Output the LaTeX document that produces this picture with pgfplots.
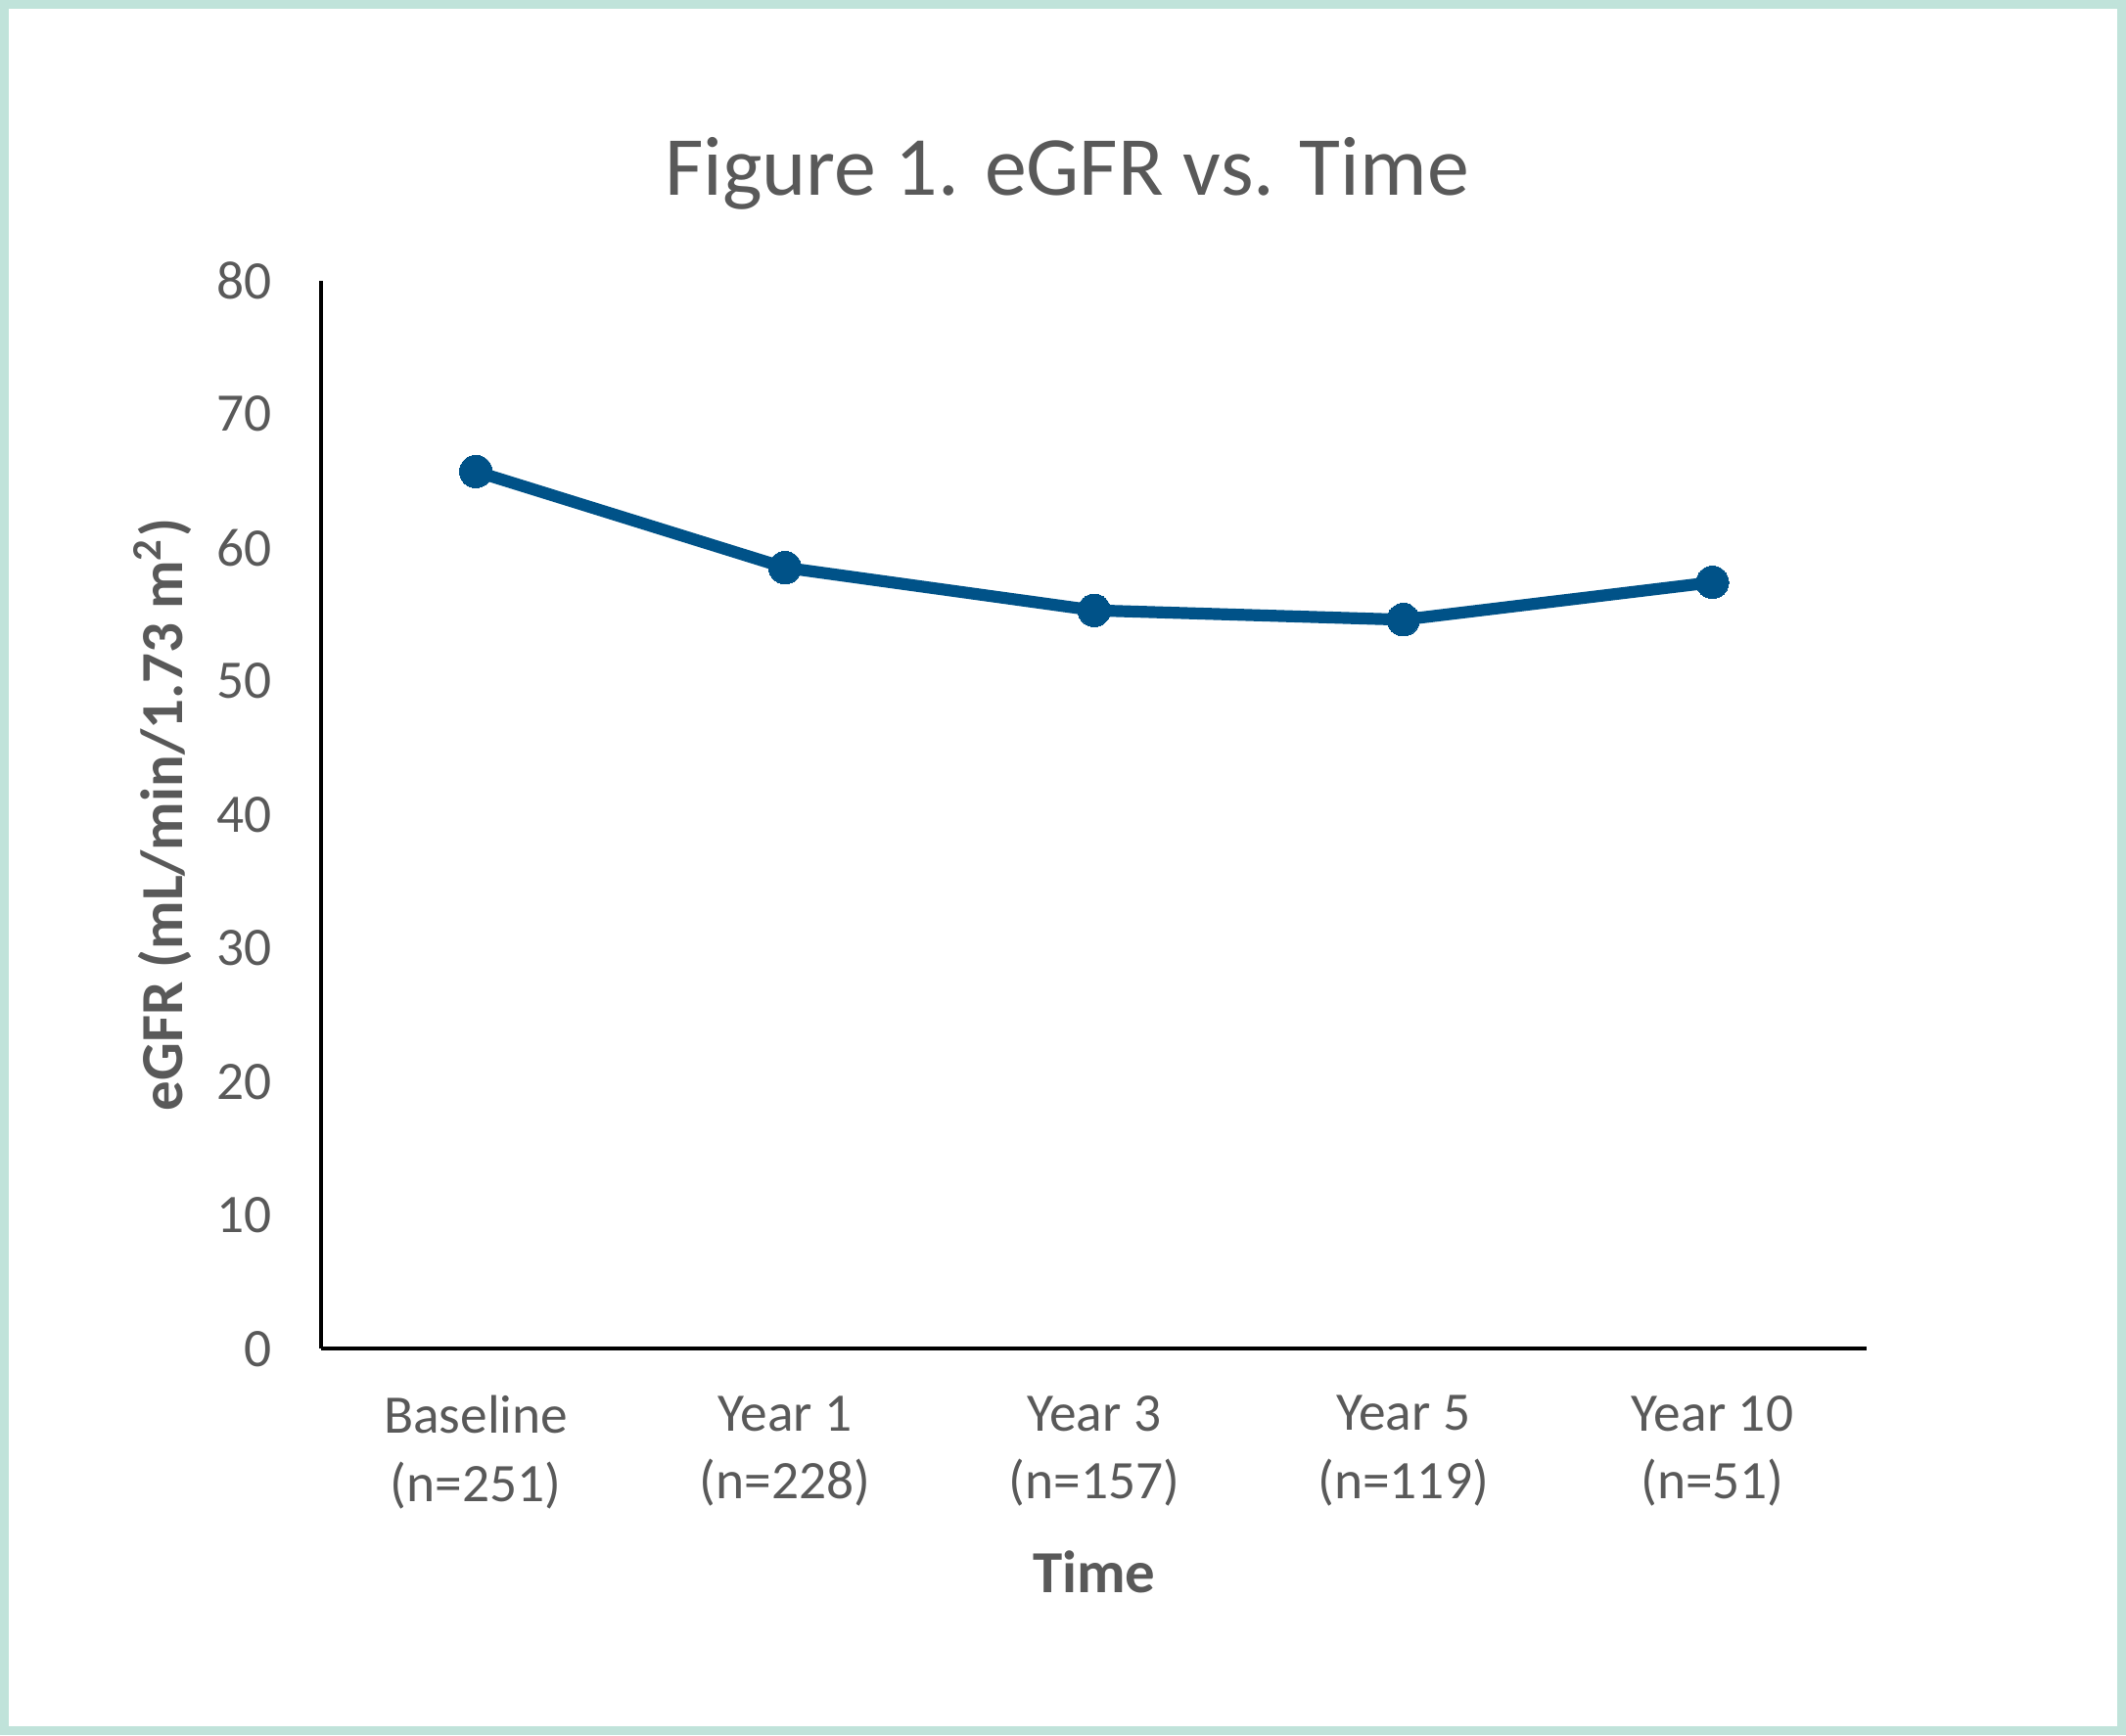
\documentclass[border=0pt]{standalone}
\usepackage{fontspec}
\setmainfont{Carlito}
\usepackage{pgfplots}
\pgfplotsset{compat=1.18}

\definecolor{framec}{RGB}{192,227,218}
\definecolor{txt}{RGB}{89,89,89}
\definecolor{linec}{RGB}{0,82,136}

\begin{document}
\begin{tikzpicture}
  % outer frame
  \draw[framec, line width=1.6pt] (0.8pt,0.8pt) rectangle (391.2pt,319.2pt);

  \node[txt, font=\fontsize{15.5}{18}\selectfont, inner sep=0pt] at (196.75pt,288pt)
    {Figure 1. eGFR vs. Time};

  \begin{axis}[
      at={(59.25pt,71.25pt)}, anchor=south west,
      scale only axis,
      width=285pt, height=197pt,
      xmin=-0.5, xmax=4.5,
      ymin=0, ymax=80,
      ytick={0,10,...,80},
      xtick={0,1,2,3,4},
      xticklabels={{Baseline\\(n=251)},{Year 1\\(n=228)},{Year 3\\(n=157)},{Year 5\\(n=119)},{Year 10\\(n=51)}},
      axis x line*=bottom, axis y line*=left,
      axis line style={black, line width=0.7pt, -},
      major tick length=0pt,
      /pgf/number format/assume math mode=true,
      yticklabel style={txt, font=\fontsize{10}{12}\selectfont, anchor=east, inner sep=0pt, xshift=-9pt},
      xticklabel style={txt, font=\fontsize{10}{12.5}\selectfont, align=center, anchor=north, inner sep=0pt, yshift=-8.5pt},
      xlabel={\textbf{Time}},
      ylabel={\textbf{eGFR (mL/min/1.73 m\textsuperscript{2})}},
      xlabel style={txt, font=\fontsize{11}{13}\selectfont, at={(axis description cs:0.5,-0.209)}, anchor=center, inner sep=0pt},
      ylabel style={txt, font=\fontsize{11}{13}\selectfont, at={(axis description cs:-0.1026,0.5)}, anchor=center, rotate=0, inner sep=0pt},
      clip=false,
    ]
    \addplot[linec, line width=2.2pt, mark=*, mark size=3pt, mark options={fill=linec, draw=linec, line width=0pt}]
      coordinates {(0,65.7) (1,58.5) (2,55.3) (3,54.6) (4,57.4)};
  \end{axis}
\end{tikzpicture}
\end{document}
